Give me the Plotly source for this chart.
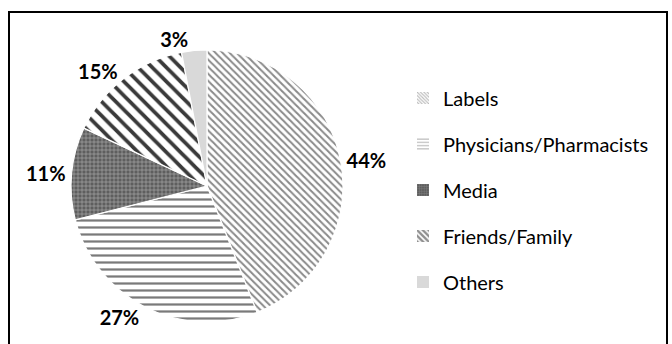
import plotly.graph_objects as go

categories = ["Labels", "Physicians/Pharmacists", "Media", "Friends/Family", "Others"]
values = [44, 27, 11, 15, 3]

pattern_shapes = ["\\", "-", "+", "\\", ""]
pattern_fg = ["#8a8a8a", "#7a7a7a", "#a8a8a8", "#3a3a3a", "#d9d9d9"]
pattern_bg = ["#ffffff", "#ffffff", "#5e5e5e", "#ffffff", "#d9d9d9"]
pattern_size = [5, 7, 4, 10, 8]
pattern_solid = [0.4, 0.32, 0.3, 0.38, 0.5]
legend_fg = ["#7a7a7a", "#6a6a6a", "#a8a8a8", "#202020", "#d9d9d9"]
legend_size = [3, 4, 3, 5, 3]
legend_solid = [0.45, 0.35, 0.3, 0.6, 0.5]

W, H = 672, 344
cx, cy, r = 207, 186, 136

fig = go.Figure()
fig.add_trace(go.Pie(
    labels=categories,
    values=values,
    sort=False,
    direction="clockwise",
    rotation=0,
    texttemplate="%{value}%",
    textposition="outside",
    textfont=dict(family="Lato", size=20, color="black", weight="bold"),
    marker=dict(
        colors=pattern_bg,
        line=dict(color="white", width=1.2),
        pattern=dict(shape=pattern_shapes, fgcolor=pattern_fg, bgcolor=pattern_bg,
                     size=pattern_size, solidity=pattern_solid, fillmode="replace"),
    ),
    domain=dict(x=[(cx - r) / W, (cx + r) / W], y=[1 - (cy + r) / H, 1 - (cy - r) / H]),
    showlegend=False,
    hoverinfo="label+percent",
))

# legend entries
for i, name in enumerate(categories):
    fig.add_trace(go.Bar(
        x=[None], y=[None], name=name, legendgroup=name,
        marker=dict(color=pattern_bg[i], line=dict(width=0),
                    pattern=dict(shape=pattern_shapes[i], fgcolor=legend_fg[i],
                                 bgcolor=pattern_bg[i], size=legend_size[i],
                                 solidity=legend_solid[i])),
        showlegend=True,
    ))

fig.update_layout(
    width=W, height=H,
    margin=dict(l=0, r=0, t=0, b=0),
    paper_bgcolor="white", plot_bgcolor="white",
    xaxis=dict(visible=False), yaxis=dict(visible=False),
    font=dict(family="Lato", size=20, color="black"),
    legend=dict(
        x=403 / W, y=1 - 190 / H, xanchor="left", yanchor="middle",
        tracegroupgap=17, itemwidth=30,
        font=dict(family="Lato", size=20, color="black"),
        bgcolor="rgba(0,0,0,0)",
    ),
    shapes=[dict(type="rect", xref="paper", yref="paper",
                 x0=9 / W, x1=667 / W, y0=-0.05, y1=1 - 12 / H,
                 line=dict(color="black", width=2))],
)

fig.write_html("out.html")
